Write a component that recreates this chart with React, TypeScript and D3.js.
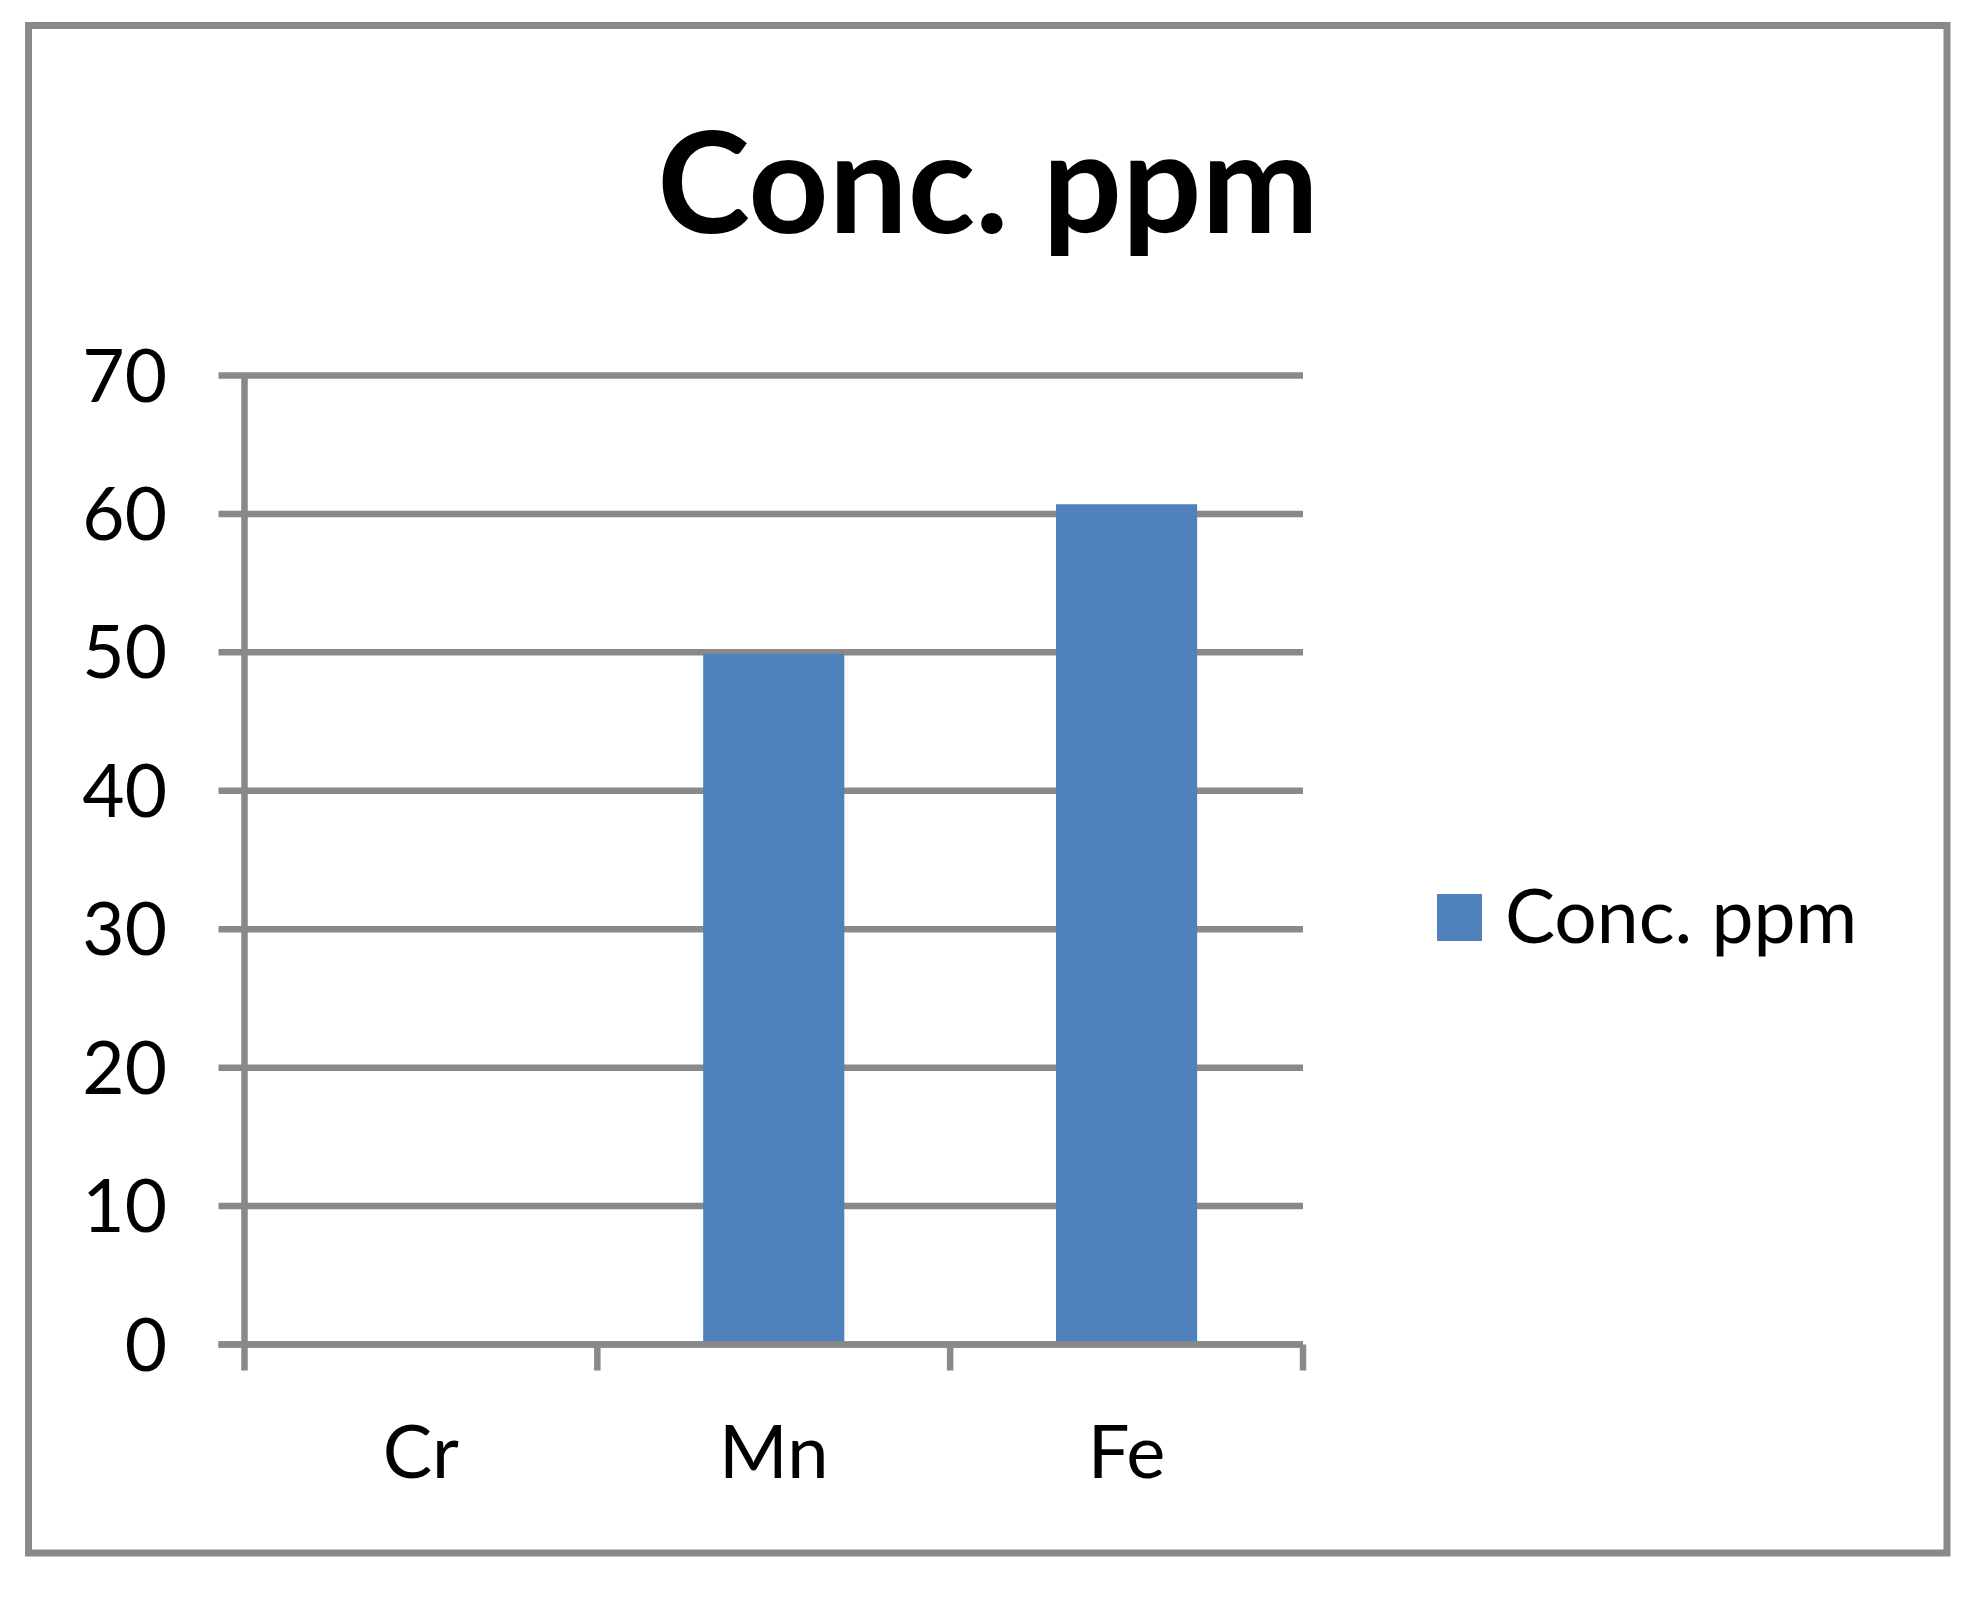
import React, { useEffect, useRef } from "react";
import * as d3 from "d3";

const categories = ["Cr", "Mn", "Fe"];
const values = [0, 49.9, 60.7];
const yTicks = [0, 10, 20, 30, 40, 50, 60, 70];
const seriesName = "Conc. ppm";
const titleText = "Conc. ppm";

const W = 1986;
const H = 1604;
const GRAY = "#898989";
const BLUE = "#4f81bd";
const FONT = "Lato, 'Open Sans', sans-serif";

const App = () => {
  const ref = useRef<SVGSVGElement>(null);

  useEffect(() => {
    document.body.style.margin = "0";
    const svg = d3.select(ref.current);
    svg.selectAll("*").remove();

    const plot = { left: 244.5, right: 1303, top: 375.5, bottom: 1344.5 };

    const x = d3
      .scaleBand()
      .domain(categories)
      .range([plot.left, plot.right])
      .paddingInner(0.6)
      .paddingOuter(0.3);
    const y = d3.scaleLinear().domain([0, 70]).range([plot.bottom, plot.top]);

    svg.append("rect").attr("width", W).attr("height", H).attr("fill", "#fff");

    // chart border
    svg
      .append("rect")
      .attr("x", 28.5)
      .attr("y", 25.5)
      .attr("width", 1947 - 28.5)
      .attr("height", 1553 - 25.5)
      .attr("fill", "none")
      .attr("stroke", GRAY)
      .attr("stroke-width", 7);

    // title
    svg
      .append("text")
      .attr("x", 988)
      .attr("y", 233)
      .attr("text-anchor", "middle")
      .attr("font-family", FONT)
      .attr("font-weight", 700)
      .attr("font-size", 140)
      .text(titleText);

    // gridlines + y ticks
    const step = x.step();
    const gridLeft = plot.left - 26;
    svg
      .append("g")
      .selectAll("line")
      .data(yTicks)
      .enter()
      .append("line")
      .attr("x1", gridLeft)
      .attr("x2", plot.right)
      .attr("y1", (d) => y(d))
      .attr("y2", (d) => y(d))
      .attr("stroke", GRAY)
      .attr("stroke-width", 6.5);

    svg
      .append("g")
      .selectAll("text")
      .data(yTicks)
      .enter()
      .append("text")
      .attr("x", 167)
      .attr("y", (d) => y(d) + 26)
      .attr("text-anchor", "end")
      .attr("font-family", FONT)
      .attr("font-size", 73)
      .text((d) => d);

    // bars
    svg
      .append("g")
      .selectAll("rect")
      .data(values)
      .enter()
      .append("rect")
      .attr("x", (_, i) => x(categories[i]) as number)
      .attr("width", x.bandwidth())
      .attr("y", (d) => y(d))
      .attr("height", (d) => y(0) - y(d))
      .attr("fill", BLUE);

    // axis lines
    svg
      .append("line")
      .attr("x1", plot.left)
      .attr("x2", plot.left)
      .attr("y1", plot.top)
      .attr("y2", plot.bottom + 26)
      .attr("stroke", GRAY)
      .attr("stroke-width", 6.5);
    svg
      .append("line")
      .attr("x1", gridLeft)
      .attr("x2", plot.right)
      .attr("y1", plot.bottom)
      .attr("y2", plot.bottom)
      .attr("stroke", GRAY)
      .attr("stroke-width", 6.5);

    const bounds = d3.range(categories.length + 1).map((i) => plot.left + i * step);
    svg
      .append("g")
      .selectAll("line")
      .data(bounds.slice(1))
      .enter()
      .append("line")
      .attr("x1", (d) => d)
      .attr("x2", (d) => d)
      .attr("y1", plot.bottom)
      .attr("y2", plot.bottom + 26)
      .attr("stroke", GRAY)
      .attr("stroke-width", 6.5);

    // category labels
    svg
      .append("g")
      .selectAll("text")
      .data(categories)
      .enter()
      .append("text")
      .attr("x", (d) => (x(d) as number) + x.bandwidth() / 2)
      .attr("y", 1478)
      .attr("text-anchor", "middle")
      .attr("font-family", FONT)
      .attr("font-size", 74)
      .text((d) => d);

    // legend
    svg
      .append("rect")
      .attr("x", 1437)
      .attr("y", 894)
      .attr("width", 45)
      .attr("height", 47)
      .attr("fill", BLUE);
    svg
      .append("text")
      .attr("x", 1505)
      .attr("y", 943)
      .attr("font-family", FONT)
      .attr("font-size", 75)
      .text(seriesName);
  }, []);

  return (
    <svg
      ref={ref}
      width={W}
      height={H}
      style={{ position: "absolute", left: 0, top: 0, display: "block" }}
    ></svg>
  );
};

export default App;
